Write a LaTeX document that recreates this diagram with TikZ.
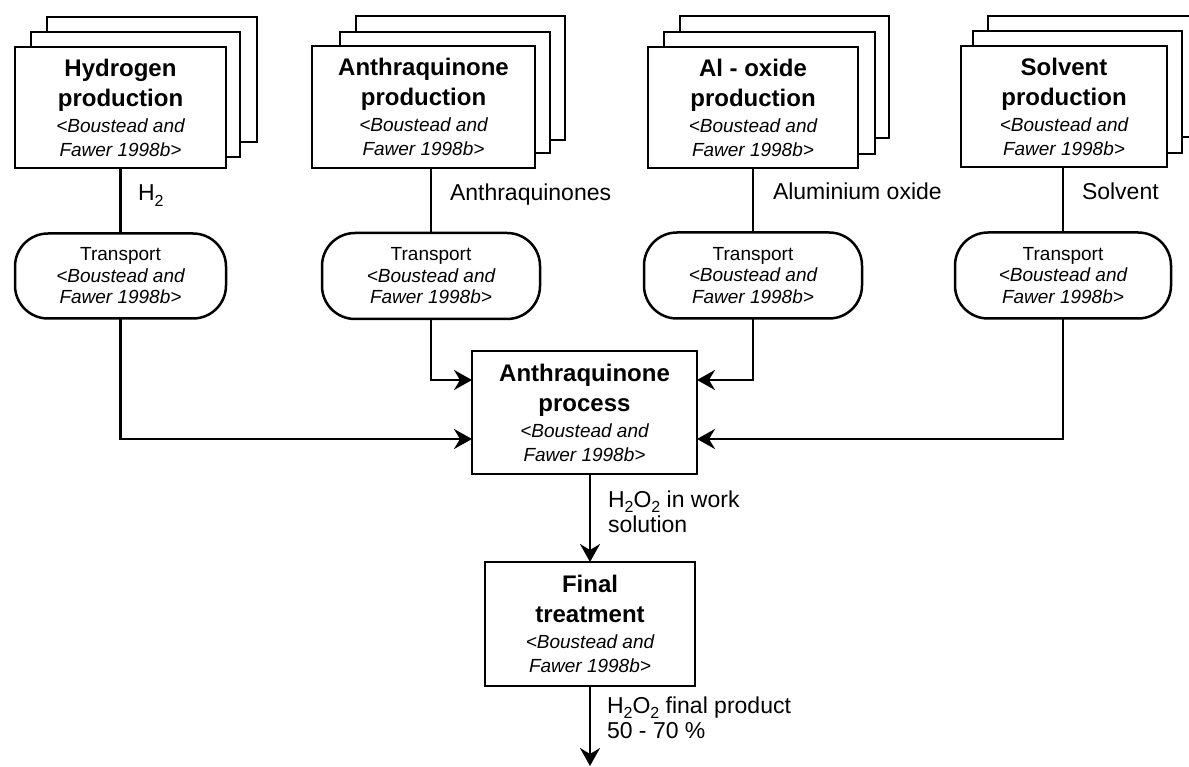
\documentclass[tikz,border=0pt]{standalone}
\usepackage{fontspec}
\setmainfont{Liberation Sans}
\usetikzlibrary{arrows.meta}
% two kinds of text inside the process boxes
\newcommand\boxhead[1]{{\fontsize{24}{30}\selectfont\bfseries #1}}
\newcommand\boxcite[1]{{\itshape #1}}
% chemical index, set low as in the flow labels
\newcommand\chemidx[1]{\raisebox{-5.5pt}{\fontsize{16}{16}\selectfont #1}}
\begin{document}
\begin{tikzpicture}[x=1pt,y=-1pt,
  line width=2.5pt,
  every node/.style={inner sep=0pt, outer sep=0pt},
  card/.style={draw, fill=white},
  procbox/.style={draw, fill=white, align=center, font=\fontsize{19}{24}\selectfont},
  trbox/.style={draw, fill=white, rounded corners=33pt, align=center,
                font=\fontsize{19}{21.5}\selectfont},
  flowlbl/.style={anchor=base west, align=left, font=\fontsize{23}{25}\selectfont},
  arr/.style={-{Stealth[length=18pt,width=20pt,inset=6pt]}},
]
\useasboundingbox (0,0) rectangle (1189,767);

% ---- upstream production processes (stacked cards) ----
\draw[card] (47,17) rectangle (257,142);
\draw[card] (31,32) rectangle (240,157);
\node[procbox, minimum width=211pt, minimum height=121pt] (hyd) at (120.5,107.5)
  {\boxhead{Hydrogen}\\[6pt]\boxhead{production}\\[2pt]\boxcite{<Boustead and}\\\boxcite{Fawer 1998b>}};

\draw[card] (356,16) rectangle (565,140);
\draw[card] (340,32) rectangle (550,153);
\node[procbox, minimum width=223pt, minimum height=122pt] (anq) at (423.5,107)
  {\boxhead{Anthraquinone}\\[6pt]\boxhead{production}\\[2pt]\boxcite{<Boustead and}\\\boxcite{Fawer 1998b>}};

\draw[card] (680,16) rectangle (889,138);
\draw[card] (664,32) rectangle (875,154);
\node[procbox, minimum width=210pt, minimum height=121pt] (alo) at (753,107.5)
  {\boxhead{Al - oxide}\\[6pt]\boxhead{production}\\[2pt]\boxcite{<Boustead and}\\\boxcite{Fawer 1998b>}};

\draw[card] (988,16) rectangle (1197,137);
\draw[card] (973,31) rectangle (1182,153);
\node[procbox, minimum width=206pt, minimum height=121pt] (sol) at (1064,106.5)
  {\boxhead{Solvent}\\[6pt]\boxhead{production}\\[2pt]\boxcite{<Boustead and}\\\boxcite{Fawer 1998b>}};

% ---- transport steps ----
\node[trbox, minimum width=211pt, minimum height=85pt] (trh) at (120.5,276)
  {Transport\\\boxcite{<Boustead and}\\\boxcite{Fawer 1998b>}};
\node[trbox, minimum width=218pt, minimum height=86pt] (tra) at (431,276)
  {Transport\\\boxcite{<Boustead and}\\\boxcite{Fawer 1998b>}};
\node[trbox, minimum width=218pt, minimum height=86pt] (trl) at (753,275.5)
  {Transport\\\boxcite{<Boustead and}\\\boxcite{Fawer 1998b>}};
\node[trbox, minimum width=216pt, minimum height=86pt] (trs) at (1063,275.5)
  {Transport\\\boxcite{<Boustead and}\\\boxcite{Fawer 1998b>}};

% ---- main process and final treatment ----
\node[procbox, minimum width=225pt, minimum height=123pt] (proc) at (584.5,412.5)
  {\boxhead{Anthraquinone}\\[6pt]\boxhead{process}\\[2pt]\boxcite{<Boustead and}\\\boxcite{Fawer 1998b>}};
\node[procbox, minimum width=210pt, minimum height=124pt] (fin) at (590,624)
  {\boxhead{Final}\\[6pt]\boxhead{treatment}\\[2pt]\boxcite{<Boustead and}\\\boxcite{Fawer 1998b>}};

% heights at which the inputs enter the main process
\coordinate (upper) at (0,380);
\coordinate (lower) at (0,439);
\coordinate (outend) at (590,766);

% ---- connectors ----
\draw (trh.north) -- (trh.north |- hyd.south);
\draw (tra.north) -- (tra.north |- anq.south);
\draw (trl.north) -- (trl.north |- alo.south);
\draw (trs.north) -- (trs.north |- sol.south);

\draw[arr] (trh.south) |- (proc.west |- lower);
\draw[arr] (tra.south) |- (proc.west |- upper);
\draw[arr] (trl.south) |- (proc.east |- upper);
\draw[arr] (trs.south) |- (proc.east |- lower);
\draw[arr] (fin.north |- proc.south) -- (fin.north);
\draw[arr] (fin.south) -- (outend);

% ---- flow labels (base anchor sits on the last line) ----
\node[flowlbl] (lh2) at (138,201) {H\chemidx{2}};
\node[flowlbl] (lanq) at (450,201) {Anthraquinones};
\node[flowlbl] (lalo) at (773,200) {Aluminium oxide};
\node[flowlbl] (lsol) at (1082,200) {Solvent};
\node[flowlbl] (lwork) at (608,532) {H\chemidx{2}O\chemidx{2} in work\\solution};
\node[flowlbl] (lprod) at (607,738) {H\chemidx{2}O\chemidx{2} final product\\50 - 70 \%};
\end{tikzpicture}
\end{document}
